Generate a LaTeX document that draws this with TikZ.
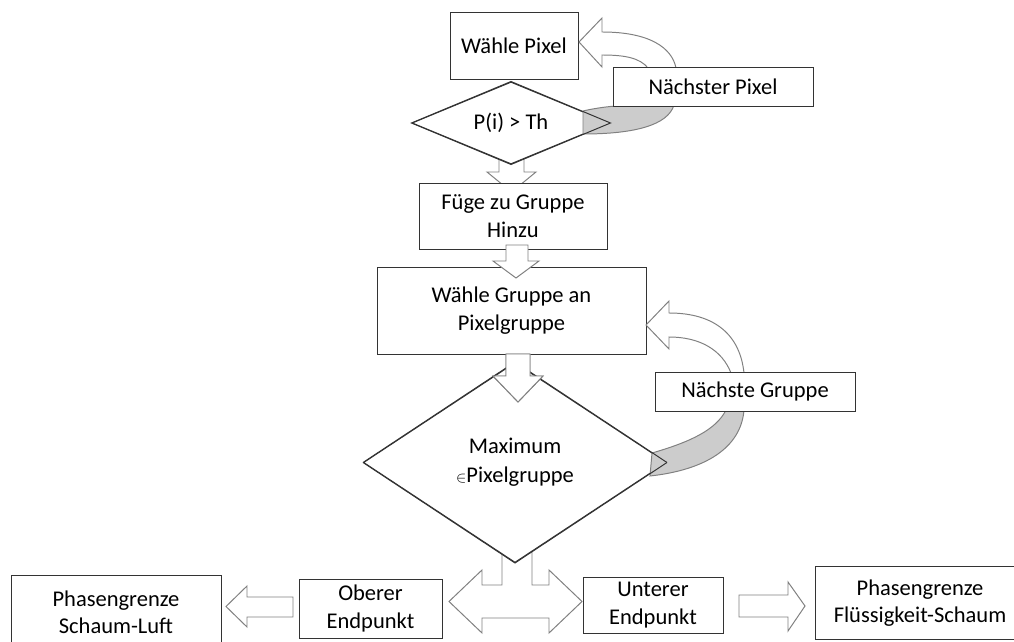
\documentclass[tikz,border=0pt]{standalone}
\usepackage{fontspec}
\setmainfont{Carlito}
\usetikzlibrary{shapes.geometric}

\def\u{0.025cm}
\tikzset{
  box/.style={draw=black!80,fill=white,line width=0.7pt,inner sep=0pt,align=center,
    font=\fontsize{16}{19.5}\selectfont},
  rhomb/.style={box,diamond,aspect=2},
  blockarr/.style={draw=gray,fill=white,line width=0.7pt,line join=miter},
  backside/.style={draw=gray,fill=gray!40,line width=0.7pt}
}

\begin{document}
\begin{tikzpicture}[x=0.025cm,y=-0.025cm]
\useasboundingbox (0,0) rectangle (1014,642);

% arrows lying under the diamonds
\draw[blockarr] (499,150) -- (499,172) -- (487,172) -- (511.5,192) -- (536,172) -- (524,172) -- (524,150) -- cycle;
\draw[blockarr] (502,540) -- (502,585) -- (482,585) -- (482,570) -- (449,601.5) -- (482,633) -- (482,618)
  -- (549,618) -- (549,633) -- (582,601.5) -- (549,570) -- (549,585) -- (532,585) -- (532,540) -- cycle;

% blocks
\node[box,minimum width=128*\u,minimum height=67*\u] (wpix) at (514,45.5) {Wähle Pixel};
\node[rhomb,minimum width=198*\u,minimum height=82*\u] (dpth) at (511,123) {P(i) > Th};
\node[box,minimum width=188*\u,minimum height=66*\u] (fuege) at (513,216) {Füge zu Gruppe\\Hinzu};
\node[box,minimum width=269*\u,minimum height=87*\u] (wgrp) at (511.5,310.5) {Wähle Gruppe an\\Pixelgruppe};
\node[rhomb,aspect=1.5,minimum width=303*\u,minimum height=200*\u] (dmax) at (515,462.5)
  {Maximum\\[1pt]{\fontsize{11}{11}\selectfont$\in$}Pixelgruppe};
\node[box,minimum width=143*\u,minimum height=59*\u] (ober) at (370.5,608.5) {Oberer\\Endpunkt};
\node[box,minimum width=140*\u,minimum height=56*\u] (unter) at (653,605) {Unterer\\Endpunkt};
\node[box,minimum width=210*\u,minimum height=75*\u] (pls) at (116,612.5) {Phasengrenze\\Schaum-Luft};
\node[box,minimum width=210*\u,minimum height=73*\u] (pfs) at (920,603) {Phasengrenze\\Flüssigkeit-Schaum};

% straight arrows
\draw[blockarr] (506,245) -- (506,261) -- (493,261) -- (516,278) -- (539,261) -- (528,261) -- (528,245) -- cycle;
\draw[blockarr] (506,354) -- (506,376) -- (493,376) -- (518,402) -- (543,376) -- (530,376) -- (530,354) -- cycle;
\draw[blockarr] (293,597) -- (247,597) -- (247,586) -- (226,606.5) -- (247,627) -- (247,617) -- (293,617) -- cycle;
\draw[blockarr] (739,595) -- (788,595) -- (788,582) -- (805,606) -- (788,631) -- (788,617) -- (739,617) -- cycle;

% loop back: next pixel
\draw[backside] (583,111) .. controls (600,107) and (620,105) .. (640,105) -- (674,105)
  .. controls (668,125) and (635,134) .. (583,134) -- cycle;
\draw[draw=black!80,line width=0.7pt] (dpth.north) -- (dpth.east) -- (dpth.south) -- (dpth.west) -- cycle;
\draw[blockarr] (648,68) .. controls (640,58) and (625,55) .. (602,55) -- (602,67) -- (579,42) -- (602,18)
  -- (602,32) .. controls (650,32) and (672,48) .. (676,68) -- cycle;
\node[box,minimum width=200*\u,minimum height=39*\u] (npix) at (713,86.5) {Nächster Pixel};

% loop back: next group
\draw[backside] (652,453) .. controls (690,442) and (716,430) .. (726,410) -- (744,410)
  .. controls (741,448) and (705,470) .. (650,476) -- cycle;
\draw[draw=black!80,line width=0.7pt] (dmax.east) -- (dmax.south) -- (dmax.west);
\draw[draw=black!80,line width=0.7pt] (dmax.west) -- (dmax.north) -- (dmax.east);
\draw[blockarr] (506,354) -- (506,376) -- (493,376) -- (518,402) -- (543,376) -- (530,376) -- (530,354) -- cycle;
\draw[blockarr] (731,373) .. controls (722,350) and (700,337) .. (669,337) -- (669,349) -- (646,325) -- (669,301)
  -- (669,313) .. controls (715,313) and (740,335) .. (744,373) -- cycle;
\node[box,minimum width=200*\u,minimum height=39*\u] (ngrp) at (755,391.5) {Nächste Gruppe};

\end{tikzpicture}
\end{document}
